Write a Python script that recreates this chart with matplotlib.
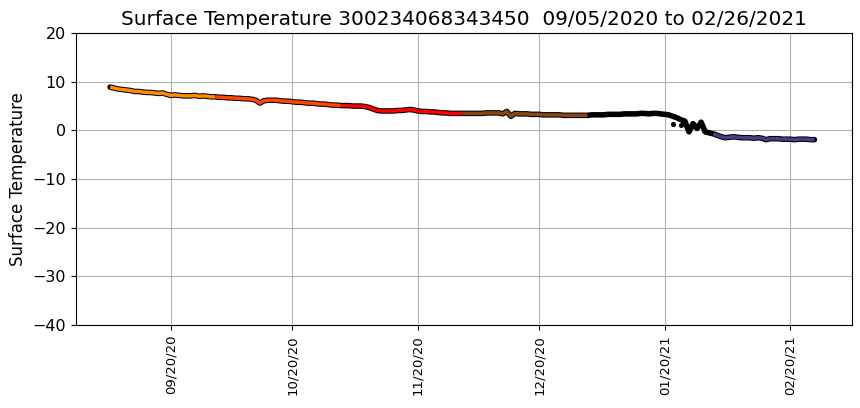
import numpy as np
import pandas as pd
from matplotlib import pyplot as plt
import matplotlib.dates as mdates

# daily surface temperature readings, one value per day from 09/05/2020
sep = [8.9, 8.7, 8.5, 8.4, 8.3, 8.2, 8.0, 8.0, 7.9, 7.8, 7.8, 7.7, 7.6, 7.7, 7.4,
       7.2, 7.3, 7.2, 7.1, 7.1, 7.1, 7.2, 7.0, 7.1, 7.0, 6.9]
oct_ = [6.9, 6.8, 6.8, 6.7, 6.7, 6.6, 6.6, 6.5, 6.5, 6.4, 6.2, 5.6, 6.1, 6.2, 6.2,
        6.2, 6.1, 6.0, 6.0, 5.9, 5.8, 5.8, 5.7, 5.6, 5.6, 5.5, 5.4, 5.4, 5.3, 5.2, 5.2]
nov = [5.1, 5.1, 5.1, 5.0, 5.0, 5.0, 4.9, 4.7, 4.4, 4.1, 4.0, 4.0, 4.0, 4.0, 4.1,
       4.1, 4.2, 4.3, 4.2, 4.0, 3.9, 3.9, 3.8, 3.8, 3.7, 3.6, 3.6, 3.5, 3.5, 3.5]
dec = [3.5, 3.5, 3.5, 3.5, 3.5, 3.5, 3.6, 3.6, 3.6, 3.6, 3.4, 3.9, 2.9, 3.5, 3.4,
       3.4, 3.4, 3.3, 3.3, 3.3, 3.2, 3.2, 3.2, 3.2, 3.2, 3.1, 3.1, 3.1, 3.1, 3.1, 3.1]
jan = [3.1, 3.2, 3.2, 3.2, 3.2, 3.3, 3.3, 3.3, 3.3, 3.4, 3.4, 3.4, 3.4, 3.5, 3.5,
       3.4, 3.5, 3.5, 3.4, 3.3, 3.2, 2.9, 2.6, 2.2, 1.9, -0.3, 1.4, 0.4, 1.7, -0.3, -0.5]
feb = [-0.7, -1.0, -1.3, -1.5, -1.4, -1.3, -1.4, -1.5, -1.5, -1.5, -1.6, -1.5, -1.6,
       -1.9, -1.7, -1.7, -1.7, -1.8, -1.8, -1.8, -1.9, -1.8, -1.8, -1.8, -1.9, -1.9]

# a few stray readings off the main track
odd_dates = ['2021-01-22', '2021-01-24']
odd_temps = [1.4, 1.2]

month_colors = ['darkorange', 'orangered', 'red', 'saddlebrown', 'black', 'darkslateblue']

temps = sep + oct_ + nov + dec + jan + feb
df = pd.DataFrame({'date': pd.date_range('2020-09-05', periods=len(temps), freq='D'),
                   'temp': temps})
df['month'] = df['date'].dt.to_period('M')

fig, ax = plt.subplots(figsize=(8.6, 4.08), dpi=100)
plt.subplots_adjust(left=0.088, right=0.991, top=0.919, bottom=0.203)

# black outline underneath, then the coloured track per month
ax.plot(df['date'], df['temp'], color='black', linewidth=4.0, solid_capstyle='round', zorder=2)
groups = list(df.groupby('month'))
for i, ((m, grp), c) in enumerate(zip(groups, month_colors)):
    seg = grp
    if i + 1 < len(groups):
        seg = pd.concat([grp, groups[i + 1][1].iloc[:1]])
    ax.plot(seg['date'], seg['temp'], color=c, linewidth=2.5, solid_capstyle='butt', zorder=3)
ax.scatter(pd.to_datetime(odd_dates), odd_temps, s=7, c='black', zorder=3)

ax.set_ylim(-40, 20)
ax.set_xlim(pd.Timestamp('2020-08-27 12:00'), pd.Timestamp('2021-03-07 08:00'))
ax.xaxis.set_major_locator(mdates.DayLocator(bymonthday=20))
ax.xaxis.set_major_formatter(mdates.DateFormatter('%m/%d/%y'))
plt.xticks(rotation=90, fontsize=9.5)
plt.yticks(fontsize=11.5)
ax.grid(True)
ax.set_axisbelow(True)
plt.ylabel("Surface Temperature", fontsize=12)
plt.title("Surface Temperature 300234068343450  09/05/2020 to 02/26/2021", fontsize=14.4)
plt.savefig("out.png")
